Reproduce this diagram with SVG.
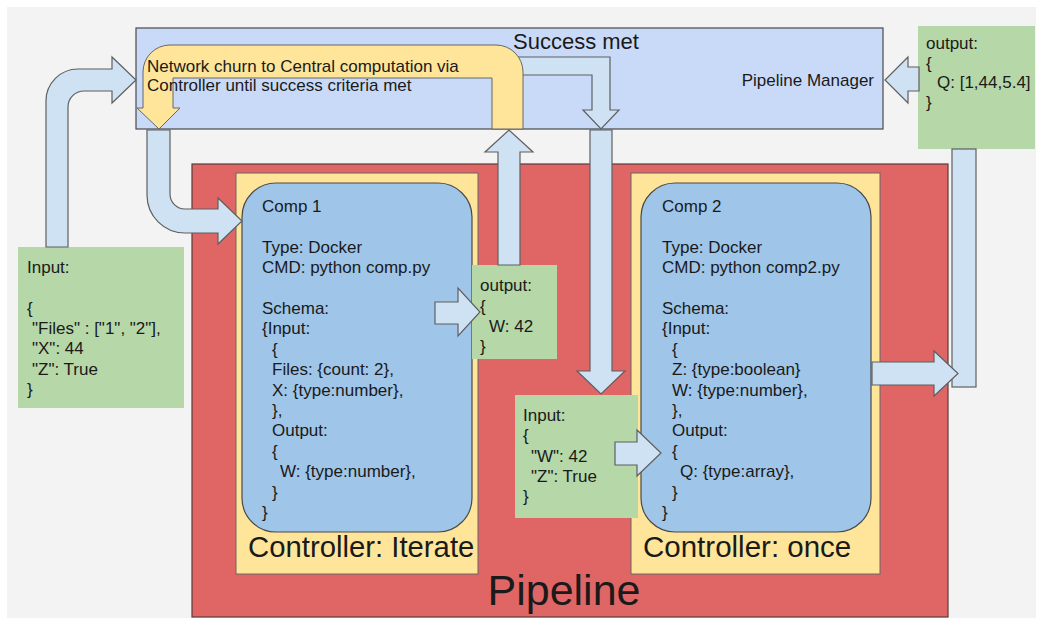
<svg xmlns="http://www.w3.org/2000/svg" width="1042" height="618" viewBox="0 0 1042 618">
<style>
text{font-family:"Liberation Sans",Arial,sans-serif;fill:#1a1a1a}
.s{font-size:17px}
.green{fill:#b6d7a8}
.arr{fill:#cfe2f3;stroke:#5f5f5f;stroke-width:1.2;stroke-linejoin:miter}
.yel{fill:#ffe599;stroke:#666;stroke-width:1}
.comp{fill:#9fc5e8;stroke:#4a4a4a;stroke-width:1.2}
</style>
<rect x="0" y="0" width="1042" height="618" fill="#ffffff"/>
<rect x="7" y="7" width="1029" height="611" fill="#f3f3f3"/>

<g id="pipeline-manager">
<rect x="136" y="28" width="747" height="101" fill="#c9daf8" stroke="#4a4a4a" stroke-width="1.2"/>
<text x="874" y="86" class="s" text-anchor="end">Pipeline Manager</text>
</g>

<g id="pipeline">
<rect x="192" y="164" width="756" height="453" fill="#e06666" stroke="#5a3a3a" stroke-width="1.2"/>
<text x="564" y="605" font-size="43" text-anchor="middle">Pipeline</text>
</g>

<g id="controller-iterate">
<rect x="236" y="173" width="242" height="401" class="yel"/>
<text x="248" y="557" font-size="29.3">Controller: Iterate</text>
</g>

<g id="controller-once">
<rect x="631" y="173" width="249" height="401" class="yel"/>
<text x="643" y="557" font-size="29.5">Controller: once</text>
</g>

<g id="comp1">
<rect x="242" y="183" width="230" height="349" rx="34" ry="34" class="comp"/>
<g class="s">
<text x="262" y="212">Comp 1</text>
<text x="262" y="252.8">Type: Docker</text>
<text x="262" y="273.2">CMD: python comp.py</text>
<text x="262" y="314">Schema:</text>
<text x="262" y="334.4">{Input:</text>
<text x="272" y="354.8">{</text>
<text x="272" y="375.2">Files: {count: 2},</text>
<text x="272" y="395.6">X: {type:number},</text>
<text x="272" y="416">},</text>
<text x="272" y="436.4">Output:</text>
<text x="272" y="456.8">{</text>
<text x="280" y="477.2">W: {type:number},</text>
<text x="272" y="497.6">}</text>
<text x="262" y="518">}</text>
</g>
</g>

<g id="comp2">
<rect x="641" y="183" width="230" height="349" rx="34" ry="34" class="comp"/>
<g class="s">
<text x="662" y="212">Comp 2</text>
<text x="662" y="252.8">Type: Docker</text>
<text x="662" y="273.2">CMD: python comp2.py</text>
<text x="662" y="314">Schema:</text>
<text x="662" y="334.4">{Input:</text>
<text x="672" y="354.8">{</text>
<text x="672" y="375.2">Z: {type:boolean}</text>
<text x="672" y="395.6">W: {type:number},</text>
<text x="672" y="416">},</text>
<text x="672" y="436.4">Output:</text>
<text x="672" y="456.8">{</text>
<text x="680" y="477.2">Q: {type:array},</text>
<text x="672" y="497.6">}</text>
<text x="662" y="518">}</text>
</g>
</g>

<g id="input-data">
<rect x="18" y="247" width="166" height="161" class="green"/>
<g class="s">
<text x="27" y="273">Input:</text>
<text x="27" y="313.6">{</text>
<text x="32" y="333.9">"Files" : ["1", "2"],</text>
<text x="32" y="354.2">"X": 44</text>
<text x="32" y="374.5">"Z": True</text>
<text x="27" y="394.8">}</text>
</g>
</g>

<g id="comp1-output">
<rect x="472" y="265" width="85" height="94" class="green"/>
<g class="s">
<text x="480" y="291">output:</text>
<text x="480" y="311.5">{</text>
<text x="489" y="332">W: 42</text>
<text x="480" y="352">}</text>
</g>
</g>

<g id="comp2-input">
<rect x="515" y="395" width="123" height="123" class="green"/>
<g class="s">
<text x="523" y="421">Input:</text>
<text x="523" y="441.3">{</text>
<text x="531" y="461.6">"W": 42</text>
<text x="531" y="481.9">"Z": True</text>
<text x="523" y="502.2">}</text>
</g>
</g>

<g id="final-output">
<rect x="918" y="26" width="117" height="123" class="green"/>
<g class="s">
<text x="926" y="49">output:</text>
<text x="926" y="68.5">{</text>
<text x="937" y="88">Q: [1,44,5.4]</text>
<text x="926" y="107.5">}</text>
</g>
</g>

<g id="connectors">
<path class="arr" d="M46,247 L46,101 A32,32 0 0 1 78,69 L112,69 L112,57 L136,80 L112,103 L112,91 L84,91 A16,16 0 0 0 68,107 L68,247 Z"/>
<path class="arr" d="M147,130 L147,195 A38,38 0 0 0 185,233 L218,233 L218,244 L242,221 L218,198 L218,209 L185,209 A15,15 0 0 1 170,194 L170,130 Z"/>
<path class="arr" d="M510,57 L610,57 L610,110 L619,110 L601,129 L583,110 L592,110 L592,75 L510,75 Z"/>
<path class="yel" d="M523,129 L523,72 A27,27 0 0 0 496,45 L170,45 A27,27 0 0 0 143,72 L143,108 L137,108 L159,129 L180,108 L173,108 L173,78 L492,78 L492,129 Z"/>
<text x="147" y="72" class="s">Network churn to Central computation via</text>
<text x="147" y="91" class="s">Controller until success criteria met</text>
<text x="513" y="49" font-size="22">Success met</text>
<path class="arr" d="M498,265 L498,152 L485,152 L509,130 L533,152 L520,152 L520,265 Z"/>
<path class="arr" d="M590,130 L612,130 L612,371 L625,371 L601,394 L577,371 L590,371 Z"/>
<path class="arr" d="M435,302 L458,302 L458,288 L480,312 L458,336 L458,324 L435,324 Z"/>
<path class="arr" d="M615,442 L637,442 L637,430 L661,453 L637,476 L637,465 L615,465 Z"/>
<rect x="952" y="149" width="24" height="238" class="arr"/>
<path class="arr" d="M872,362 L934,362 L934,351 L958,373.5 L934,396 L934,385 L872,385 Z"/>
<path class="arr" d="M919,67 L908,67 L908,57 L885,80 L908,103 L908,91 L919,91 Z"/>
</g>
</svg>
